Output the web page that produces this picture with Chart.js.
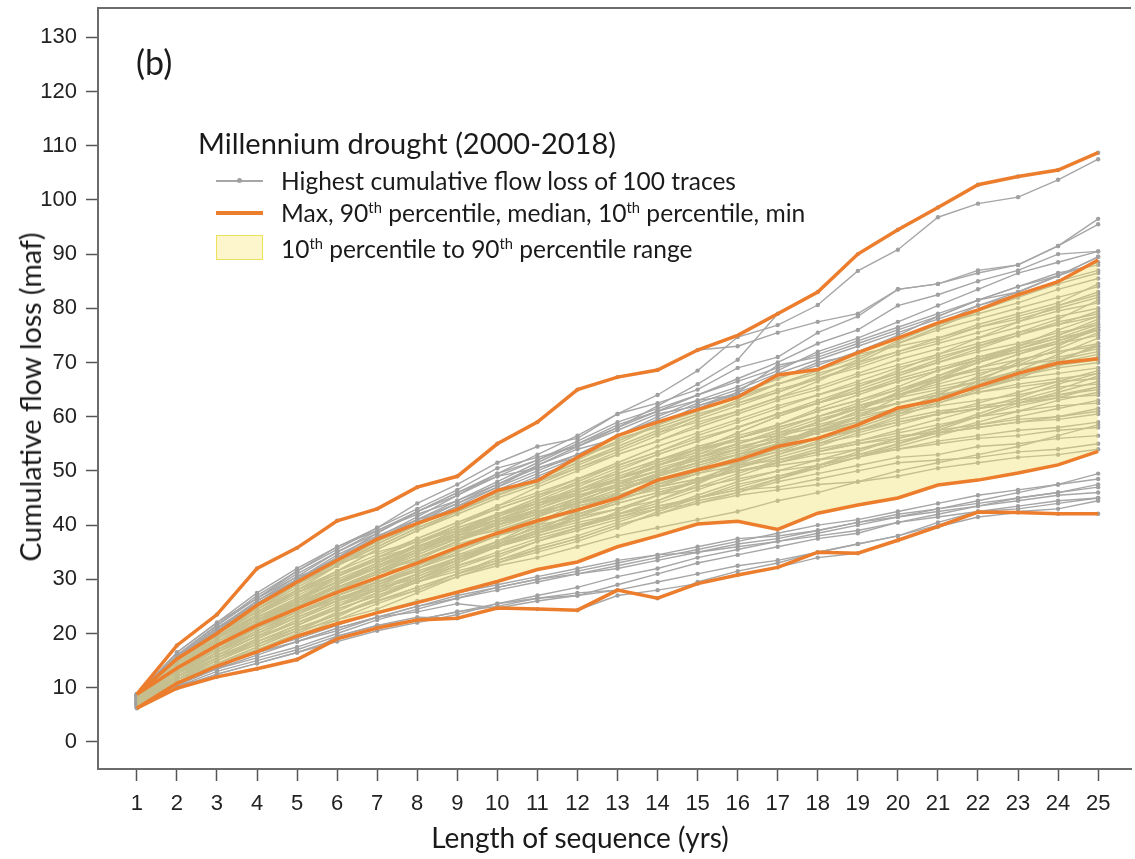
<!DOCTYPE html>
<html>
<head>
<meta charset="utf-8">
<script src="https://cdn.jsdelivr.net/npm/chart.js@4.4.1/dist/chart.umd.min.js"></script>
<style>
  html, body { margin: 0; padding: 0; background: #fff; overflow: hidden; }
  #wrap { position: relative; width: 1135px; height: 859px; }
  #chart { position: absolute; left: 0; top: 0; }
  .txt { position: absolute; font-family: Lato, "Open Sans", sans-serif; color: #1a1a1a; white-space: nowrap; }
  .mid { transform: translate(-50%, -50%); }
  sup { font-size: 0.6em; vertical-align: 0; position: relative; top: -0.6em; }
  .swatch { position: absolute; }
</style>
</head>
<body>
<div id="wrap">
  <canvas id="chart" width="1135" height="859"></canvas>
  <div class="txt" style="left:136px; top:41px; font-size:34px;">(b)</div>
  <div class="txt" style="left:198px; top:125px; font-size:29px;">Millennium drought (2000-2018)</div>
  <div class="swatch" style="left:216px; top:180px; width:47px; height:1.5px; background:#a6a6a6;"></div>
  <div class="swatch" style="left:237px; top:178px; width:5px; height:5px; border-radius:50%; background:#a0a0a0;"></div>
  <div class="txt" style="left:281px; top:166px; font-size:24.5px;">Highest cumulative flow loss of 100 traces</div>
  <div class="swatch" style="left:216px; top:211px; width:47px; height:4px; background:#ec7d2c;"></div>
  <div class="txt" style="left:281px; top:198px; font-size:24.6px;">Max, 90<sup>th</sup> percentile, median, 10<sup>th</sup> percentile, min</div>
  <div class="swatch" style="left:216px; top:235px; width:45px; height:23px; background:#fdf6cc; border:1.5px solid #ece15a;"></div>
  <div class="txt" style="left:281px; top:234px; font-size:24.5px;">10<sup>th</sup> percentile to 90<sup>th</sup> percentile range</div>
  <div class="txt mid" style="left:30px; top:397px; font-size:28.6px; transform: translate(-50%, -50%) rotate(-90deg);">Cumulative flow loss (maf)</div>
  <div class="txt mid" style="left:580px; top:837px; font-size:28px;">Length of sequence (yrs)</div>
</div>
<script>
const years = [1,2,3,4,5,6,7,8,9,10,11,12,13,14,15,16,17,18,19,20,21,22,23,24,25];
const yTicks = [0,10,20,30,40,50,60,70,80,90,100,110,120,130];

const maxLoss = [8.8,17.8,23.5,32,35.8,40.8,43,47,49,55,59,65,67.3,68.6,72.3,75,79,83,90,94.5,98.6,102.8,104.3,105.5,108.7];
const p90Loss = [8.8,15.3,20,25.2,29.5,33.5,37.4,40.3,42.9,46.4,48.2,52.5,56.5,59,61.3,63.6,67.7,68.7,71.8,74.5,77.3,79.7,82.5,84.9,88.9];
const medianLoss = [8.8,13.6,17.8,21.5,24.6,27.6,30.3,33,35.9,38.5,40.8,42.8,45,48.3,50.2,52,54.5,56,58.5,61.6,63.1,65.6,68,69.9,70.7];
const p10Loss = [6.2,10.8,14,16.6,19.5,21.8,23.8,25.7,27.6,29.6,31.8,33.2,36,38,40.2,40.7,39.2,42.2,43.7,45,47.4,48.3,49.6,51.1,53.6];
const minLoss = [6.2,9.9,12,13.5,15.2,19,21,22.5,22.8,24.7,24.5,24.3,28,26.5,29.2,30.8,32.2,35,34.8,37.2,39.7,42.4,42.3,42.1,42.1];

// highest cumulative loss per sequence length, one row per trace (read/estimated from the figure)
const grayTraces = [
  [8.5,15.8,21,25.5,30,34,37.8,41.5,45.5,49.5,53,56.5,60.5,64,68.5,74.7,76.9,80.6,86.9,90.8,96.8,99.3,100.5,103.7,107.5],
  [8.8,17.8,23.5,32,35.8,40.8,43,47,49,55,59,65,67.3,68.6,72.3,73,75.5,77.5,79,83.5,84.5,87,88,91.5,96.5],
  [8.2,14,19,23.5,28,32.5,36.5,40,43.5,47,51,54.5,58,62,66,70.5,79,83,90,94.5,98.6,102.8,104.3,105.5,108.7],
  [8.7,16,21.5,27,31.5,36,39.5,44,47.5,51.5,54.5,56,60.5,62.5,65,69,71,75.5,78.5,83.5,84.5,86.5,88,91.5,95.5],
  [8.6,15.2,20.5,26,30.5,35,38.5,42.5,46,49.5,52,55.5,59,61.5,64,67,70,73.5,76,80.5,82.5,85,87,90,90.5],
  [8.4,14.8,20,24.5,29,33.5,37,40.5,44,47.5,50.5,53,56.5,60,63,65.5,68.5,72,74.5,77.5,80.5,83.5,86.5,88.5,90.5],
  [8.8,15.5,21,25.5,30,34.5,38,41,43,46.5,49.5,52.5,55.5,58.5,62,64.5,69.5,71,73.5,76,78.5,81.5,83,86,89.5],
  [6.2,9.9,12.5,14.5,16.5,19,21,22.5,24,25,26.5,27.5,28,29.5,31,32.5,33.5,35,36.5,38,40,42.4,42.5,43,44.5],
  [6.5,10.5,12,13.5,15.2,19.5,21.5,23,22.8,24.7,26,27,29,31,33,34.5,36,37.5,38.5,40.5,42,43.5,45,46,47.5],
  [7,11.5,14,16.5,18.5,21,23,24,25.5,24.7,24.5,24.3,27,28,29.2,30.8,32.2,34,34.8,37.2,39.7,41.5,42.3,42.1,42.1],
  [6.3,10.2,13,15,17,19.5,21.5,22.5,24,25.5,26.5,27,28,26.5,29.5,31.5,33,35,36.5,38,40.5,42.5,43,44,45],
  [7.2,11.5,14.5,17,19,21.5,24,26,27.5,29,30.5,32,33.5,34.5,36,37.5,38,39,40.5,41.5,43,44.5,46,47.5,49.5],
  [6.9,11,14,16.5,18.5,20.5,23,25,26.5,28.5,30,31.5,33,34.5,35,36,37,38.5,40,41.5,42.5,43.5,44.5,45.5,46],
  [8.1,14,18.5,22.5,26,28.5,31,33,34.5,36,38,40,41.5,43,44,45.5,46.5,47.5,48,49,50.5,51.5,52.5,53,54],
  [7.4,12.5,16,19.5,22,25,27.5,30,32.5,35,37.5,39.5,41.5,43.5,45,46.5,47,48.5,50,51.5,52,52.5,53.5,54,55],
  [6.8,11.5,15,18,21,23.5,26,28.5,31,33,35.5,37.5,40,42,44.5,46,48,49.5,51,52.5,53,54.5,55,56,56.5],
  [8.5,15,20,24,27.5,30.5,33.5,36,38.5,40.5,42.5,44,45.5,47,48.5,50,51,52,53,54,55,56,56.5,57.5,58],
  [7.6,13,17,20.5,23.5,26.5,29,31.5,34,36,38.5,41,43,45.5,47,48.5,50,51,52.5,54,55.5,56.5,57.5,58,59],
  [7,12,15.5,19,22.5,25.5,28,30.5,33.5,36.5,39,41.5,44,46,48,50,51.5,53.5,55,56.5,57,58,59,59.5,60.5],
  [8,14.5,19,23,26.5,29.5,32,35.5,38,40,42,43.5,45.5,47.5,49.5,51,52,53.5,55,56,57.5,58.5,59.5,60,61],
  [6.6,11,14.5,17.5,20.5,23.5,26.5,29.5,32.5,34.5,37,39.5,42,44.5,47,49.5,52,54,55.5,57,58.5,60,61,62,62.5],
  [8.3,14,18.5,22.5,25.5,29,32.5,35,37.5,40.5,43,45.5,47.5,49,51,53,54.5,56,57.5,59,60.5,61.5,62.5,63.5,64],
  [7.3,12.5,16.5,20,23.5,27,30,33,36,38.5,41,43,45.5,48,50,52,54,56,57.5,59.5,61,62,63,64,65],
  [8.7,15.5,20.5,24.5,28,31,34,37,39.5,42,44.5,46.5,48.5,50.5,52.5,54,55.5,57.5,59,60.5,62,63,64,65.5,66],
  [7.8,13,17.5,21,24,27,29.5,32,35,38,40.5,43,45,47.5,50,52.5,55,57,59,61.5,63,64.5,65.5,66.5,67],
  [6.9,11.5,15,18.5,21.5,24.5,27,30,33,36,38.5,41.5,44.5,47,49.5,52,54.5,57,59,61,62.5,64.5,66,67,68],
  [8.2,14.5,19.5,23,26.5,30,33,36,39,41.5,44,46,48.5,51,53,55,57,58.5,60.5,62.5,64,65.5,67,68,69],
  [7.5,13,17,21,24.5,28,31,34,37,39.5,42,44.5,47,49.5,51.5,53.5,55.5,57.5,59.5,61.5,63.5,65.5,67.5,69,70],
  [8.8,14.5,18.5,22,25.5,28.5,31.5,34.5,37.5,40,42.5,45,47.5,50,52.5,55,57,59.5,61.5,63.5,65,66.5,68,69.5,70.5],
  [7.1,12,16,19.5,23,26,29,32,34.5,37,39.5,42,44.5,47,50,52.5,55,57.5,60,62.5,64.5,66.5,68.5,70,71.5],
  [8.4,15,20,24,28,31.5,34.5,37.5,40.5,43,45.5,47.5,49.5,52,54,56,58,60,62,64,66,68,69.5,71,72.5],
  [7.7,13.5,18,22,25,28.5,31.5,34.5,37.5,40.5,43.5,46.5,49.5,52,54.5,56.5,58.5,61,63,65,67,69,70.5,72,73.5],
  [8.6,15,19.5,23.5,27,30.5,34,37.5,40.5,43.5,46,48.5,51,53.5,56,58,60.5,62.5,64.5,66.5,68.5,70.5,72,73.5,75],
  [7.2,12.5,17,21,24.5,28,31.5,35,38.5,41.5,44.5,47.5,50.5,53,55.5,58,60.5,62.5,64.5,67,69,71,72.5,74.5,76],
  [8.1,14,18.5,22.5,26.5,30.5,34,37,40,43,45.5,48.5,51.5,54.5,57,59.5,62,64,66,68,70,72,73.5,75.5,77],
  [8.8,15.5,21,25,29,32.5,36,39.5,42.5,45.5,48,50.5,53,55.5,58,60.5,63,65,67.5,69.5,71.5,73.5,75.5,77,78.5],
  [7.9,13.5,18,22,26,29.5,33,36.5,40,43.5,47,50,53,55.5,58.5,61,63.5,65.5,68,70.5,72.5,74.5,76.5,78.5,80],
  [8.5,15,20,24.5,28.5,32.5,36,39.5,42.5,45.5,48.5,51.5,54.5,57.5,60,62.5,65,67,69,71.5,73.5,75.5,77.5,79.5,81],
  [8.3,14.5,19.5,24,28,31.5,35.5,39,42,45,47.5,50.5,53.5,56.5,59.5,62,64.5,67,69.5,72,74.5,76.5,78.5,80.5,82.5],
  [8.7,15.5,21,26,30,33.5,37,40,43,46,48.5,51.5,54,57,60,63,66,68.5,71,73.5,76,78,80,82,84],
  [8,14,19,23.5,27.5,31.5,35.5,39,42.5,46,49,52,55.5,58.5,61.5,64.5,67,69.5,72,74.5,77,79,81,83.5,85.5],
  [8.6,15,20.5,25.5,29.5,33.5,37.5,41,44,47,50,53,56.5,59.5,62.5,65,68,70.5,73,75.5,78,80.5,82.5,85,87],
  [8.8,16,21.5,26.5,31,35,39,42.5,45.5,49,52,55,58,61,64,66.5,69,71.5,74,76.5,79,81.5,84,86,88.5],
  [8.8,16.5,22,26.5,30.5,33,35,37,39,41,42.5,44,45.5,47,48.5,50,51.5,53,54,55.5,57,58,59,60,61.5],
  [6.4,10.5,13.5,17,20,23,26.5,30,33.5,37,40.5,44,47.5,51,54,57,60,62.5,65.5,68.5,71.5,74.5,77.5,80.5,83],
  [7,12,16.5,20.5,24,26.5,28.5,30,33,36.5,40,43.5,45,46.5,48,51.5,55,58,60,61.5,63,66.5,70,73,76.5],
  [8.5,14,17.5,21.5,26,30.5,34,36,37.5,39,41.5,45,48.5,52,54,55.5,56.5,58,61,64.5,67,68.5,69.5,70.5,72],
  [7.7,13,16,18.5,21.5,25,28.5,32,35.5,38,40,41.5,43,44.5,47.5,51,54.5,58,61,62.5,64,65,67,70,73.5],
  [8,13.5,18,22,25,27.5,30,33.5,37,40.5,42.5,44,46,49,52.5,54.5,56,57,58.5,61,64,67.5,70.5,72,73],
  [6.6,11.5,15.5,18,20.5,22.5,24.5,27.5,30.5,33,35,37,39.5,42.5,45,47.5,49,50.5,52.5,55,57.5,60,62.5,64.5,66.5],
  [8.6,15.5,19.5,22.5,25,28,31.5,35,38.5,42,44,45.5,47,48.5,50.5,53,56,59,62,64,65.5,67,69.5,72.5,75.5],
  [7.4,12.5,17.5,21,24,27,29.5,31.5,33.5,36,39,42.5,46,49.5,53,56,58.5,61,63,65.5,68.5,71,73,75,77.5],
  [7.9,14,18,21,24,26,28,30.5,33.5,36.5,39,41,43,45.5,48,50.5,52.5,54.5,57,59,60.5,61.5,62.5,64,65.5],
  [8.3,14.5,19,23.5,27.5,31,33.5,36,38,40,42,44.5,47,49.5,51.5,53,55,57,60,63.5,67,70,72,74,76],
  [6.7,11,14.5,17.5,20.5,24,27.5,31,34,36.5,38.5,40.5,42,43.5,45,46.5,48.5,50.5,52.5,54.5,56.5,58.5,60,61.5,63],
  [8.7,16,21.5,26.5,31.5,35.5,39.5,43,46.5,50.5,52.5,54.5,57.5,60.5,62,64,67,70,71.5,73,74.5,77,79,81,84.5],
  [8.2,15,20.5,25,29,33,37,41,44.5,47.5,51,54,56,58,60.5,62.5,64.5,67.5,70.5,74,77,80.5,83,86,89.5],
  [8.5,15.5,21,25.5,30,34,38.5,42.5,46,49,50.5,52.5,55,58.5,61,63.5,66,68,70,72,74,76.5,78,80,82],
  [7.5,12,15.5,18.5,21,23.5,26,28,30.5,32.5,34,36,38,39.5,41,42.5,44.5,46,48,50,51.5,53,54.5,56.5,58.5],
  [8.1,14.5,19,22.5,25.5,28.5,31.5,33.5,35.5,38.5,41.5,44,46.5,48.5,50,51.5,53.5,56,58.5,61,63.5,66,68.5,71.5,74.5],
  [6.8,11,14,17,19.5,22.5,25.5,28,31,34,37,39.5,42.5,45.5,48.5,51,53,55,57.5,60,62.5,65,67.5,69.5,71],
  [8.4,15,19.5,23,26,29.5,33,36.5,39.5,42,44,46.5,49,51.5,54,57,60,62.5,65,67.5,70,72.5,75,77.5,79],
  [7.3,12.5,16.5,19.5,22,24.5,27,29.5,31.5,33.5,35.5,37.5,40,42,44,46,48.5,51,53.5,56,58,60.5,63,65,67.5],
  [8.6,14,18,21.5,25,29,32.5,36,39,42,45,48,51,53.5,56.5,59,61.5,64,66.5,69,71,73,75,77,79.5],
  [7.8,13.5,17.5,21.5,25.5,28.5,31.5,34,36.5,38.5,40.5,42.5,45,47.5,50,52,53.5,55,56.5,58.5,60.5,62.5,64.5,66.5,68.5],
  [6.9,11.5,15.5,19,22.5,26,29.5,32.5,35.5,38.5,41.5,44,46.5,49,51.5,54,56.5,59,61.5,64.5,67.5,70.5,73,76,78.5],
  [8.2,13.5,17,20,23,26,28.5,31,33.5,36,38,40,42,44,46.5,49,51.5,53.5,55.5,57.5,59.5,61.5,63.5,66,68],
  [7.6,13,17,21,24.5,28,31,34,37,40,43,46,48.5,51,53.5,56,58.5,61.5,64,66.5,68.5,70.5,72.5,74.5,77],
  [8.8,15,20,24,27.5,30.5,33.5,36,38.5,41,43.5,46,48,50,52,54,56.5,59,61.5,64,66.5,69,71.5,74,76.5],
  [7,12,15.5,18.5,21.5,24.5,27,29.5,32,34.5,37,39,41,43,45,47,49,51,53,55,57,59,61,63,64.5],
  [8.5,14.5,18.5,22,25.5,29,32,35,38,41,43.5,46,48.5,51,53.5,56,58,60,62,64,66.5,69,71.5,73.5,76],
  [7.4,12,15.5,19,22,25,28,31,34,37,39.5,42,44,46,48,50.5,53,55.5,58,60.5,63,65.5,68,70.5,73],
  [8,14,18.5,22.5,26,29.5,32.5,35.5,38,41,44,47,50,53,55.5,58,60.5,63,65.5,68,70.5,73,75.5,78,81.5],
  [7.1,11.5,15,18,21,23.5,26,28.5,31,33.5,36,38,40.5,43,45.5,48,50,52,54,56,58,60,62,63.5,65.5],
  [8.3,14,18,21.5,25,28,31,34,37,40,42.5,45,47.5,50,52.5,55,57.5,60,62.5,65,67.5,70,72.5,75,78],
  [6.6,10.5,13.5,15.5,17.5,20,22.5,24.5,26.5,28,29.5,31,32.5,34,35.5,37,38.5,40,41,42.5,44,45.5,46.5,47.5,48.5],
  [7.1,11,13.5,16,18.5,21,23,25,27,28.5,30,31,32,33.5,35,36.5,37.5,39,40.5,42,43,44,45,46,47],
  [6.5,10,12.5,14.5,16.5,18.5,20.5,22,23.5,25.5,27,28.5,30.5,32,34,35.5,37,38,39,40.5,41.5,42.5,43.5,44.5,45],
  [8.7,16.5,22,27.5,32,36,39,42,44.5,48,51.5,55,58.5,61,63,64,66,68.5,72,75,78.5,81.5,84,86.5,88],
  [8.4,15.5,21,25.5,29.5,33,36.5,40,43.5,46,48,51,54,57,59,61,63.5,66.5,70,73.5,76.5,79.5,82,84.5,86.5]
];

const orange = '#ec7d2c';
const grey = '#a6a6a6';

function orangeLine(data) {
  return { data: data, borderColor: orange, borderWidth: 3.5, pointRadius: 0, fill: false, tension: 0 };
}

// orange lines first so they are drawn on top; band sits between them and the grey traces
const datasets = [
  orangeLine(maxLoss),
  orangeLine(p90Loss),
  orangeLine(medianLoss),
  orangeLine(p10Loss),
  orangeLine(minLoss),
  { data: p90Loss, borderWidth: 0, pointRadius: 0, fill: 3, backgroundColor: 'rgba(240,226,115,0.42)', tension: 0 }
];
grayTraces.forEach(tr => {
  datasets.push({ data: tr, borderColor: grey, borderWidth: 1.4, pointRadius: 2.2, pointBackgroundColor: '#a0a0a0', pointBorderWidth: 0, fill: false, tension: 0 });
});

// top border of the plot box
const boxTop = {
  id: 'boxTop',
  afterDraw(chart) {
    const a = chart.chartArea, c = chart.ctx;
    c.save();
    c.strokeStyle = '#6b6b6b';
    c.lineWidth = 2;
    c.beginPath();
    c.moveTo(a.left, a.top);
    c.lineTo(a.right, a.top);
    c.stroke();
    c.restore();
  }
};

const tickFont = { family: '"Liberation Sans", Arial, sans-serif', size: 22 };

new Chart(document.getElementById('chart').getContext('2d'), {
  type: 'line',
  data: { labels: years, datasets: datasets },
  plugins: [boxTop],
  options: {
    responsive: false,
    animation: false,
    events: [],
    layout: { padding: { top: 8, right: 0, left: 0, bottom: 0 } },
    plugins: { legend: { display: false }, tooltip: { enabled: false } },
    scales: {
      x: {
        type: 'linear', min: 0.03, max: 25.82,
        afterBuildTicks: s => { s.ticks = years.map(v => ({ value: v })); },
        afterFit: s => { s.height = 90; s.paddingLeft = 0; s.paddingRight = 0; },
        grid: { drawOnChartArea: false, tickLength: 12, tickColor: '#555', tickWidth: 1.5 },
        border: { color: '#6b6b6b', width: 2 },
        ticks: { font: tickFont, color: '#222', padding: 10, maxRotation: 0, autoSkip: false }
      },
      y: {
        min: -5, max: 135.4,
        afterBuildTicks: s => { s.ticks = yTicks.map(v => ({ value: v })); },
        afterFit: s => { s.width = 98; s.paddingTop = 0; s.paddingBottom = 0; },
        grid: { drawOnChartArea: false, tickLength: 12, tickColor: '#555', tickWidth: 1.5 },
        border: { color: '#6b6b6b', width: 2 },
        ticks: { font: tickFont, color: '#222', padding: 9 }
      }
    }
  }
});
</script>
</body>
</html>
